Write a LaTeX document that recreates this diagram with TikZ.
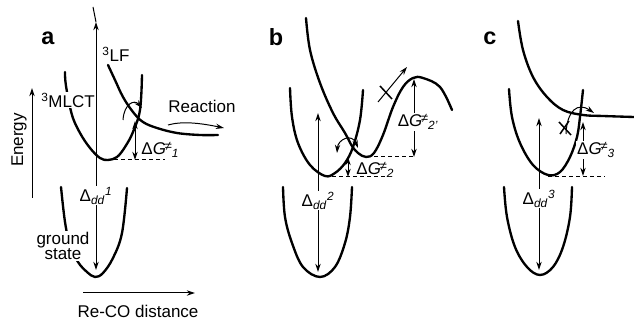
\documentclass[tikz,border=0pt]{standalone}
\usepackage{fontspec}
\setmainfont{Liberation Sans}
\usetikzlibrary{arrows.meta}

\newcommand{\dGlab}[1]{Δ\textit{G}\kern-1pt\raisebox{0.45ex}{\fontsize{11}{11}\selectfont≠}\textsubscript{\textit{#1}}}
\newcommand{\ddlab}[1]{Δ\textsubscript{\textit{dd}}\textsuperscript{\textit{#1}}}

\begin{document}
\begin{tikzpicture}[x=0.03cm, y=-0.03cm,
    pes/.style={line width=2pt, line cap=round},
    thin line/.style={line width=0.85pt},
    gap/.style={thin line, -{Stealth[length=7pt,width=4.5pt]}},
    dgap/.style={thin line, {Stealth[length=7pt,width=4.5pt]}-{Stealth[length=7pt,width=4.5pt]}},
    lvl/.style={thin line, dash pattern=on 3.5pt off 2.5pt},
    lbl/.style={font=\fontsize{14.5}{16}\selectfont, inner sep=1pt},
    wlbl/.style={lbl, fill=white},
    panel/.style={font=\fontsize{20}{21}\selectfont\bfseries, inner sep=0pt}]
    \useasboundingbox (0,0) rectangle (634,320);

    % Axes
    \coordinate (eLow) at (32,198);
    \coordinate (eHigh) at (32,88);
    \coordinate (xLeft) at (83,293);
    \coordinate (xRight) at (195,293);
    \draw[gap] (eLow) -- (eHigh);
    \draw[gap] (xLeft) -- (xRight);
    \node[lbl, rotate=90] (energy) at (19,140) {Energy};
    \node[lbl, anchor=base] (reco) at (138,318) {Re-CO distance};

    % Panel a: the curves
    \draw[pes] plot[smooth, tension=0.6] coordinates {(65,72) (66,86) (72,115) (80,133) (90,148) (100,158) (108,160) (117,157) (125,147) (133,132) (140,110) (142,75)};
    \draw[pes] plot[smooth, tension=0.6] coordinates {(61,187) (65,222) (70,245) (78,262) (87,272) (95,277) (103,273) (113,258) (122,233) (127,188)};
    \draw[pes] plot[smooth, tension=0.6] coordinates {(108,65) (115,80) (123,97) (133,112) (143,122) (157,128) (177,133) (200,135) (218,135)};

    % Panel a: the gaps
    \coordinate (aTop) at (93,7);
    \coordinate (aUp) at (96,22);
    \coordinate (aDown) at (96,270);
    \draw[thin line] (aTop) -- (aUp);
    \draw[dgap] (aUp) -- (aDown) node[pos=0.70, wlbl] (ddA) {\ddlab{1}};
    \coordinate (aX) at (135,121);
    \coordinate (aMin) at (135,160);
    \draw[dgap] (aX) -- (aMin);
    \draw[lvl] (107,160) -- (165,160);
    \node[lbl, anchor=west] (dGA) at (140,150) {\dGlab{1}};
    \coordinate (aCurlS) at (123,120);
    \coordinate (aCurlE) at (142,108);
    \draw[gap] (aCurlS) .. controls (124,104) and (134,99) .. (aCurlE);
    \coordinate (rS) at (168,125);
    \coordinate (rE) at (224,128);
    \draw[gap] (rS) .. controls (182,121) and (200,123) .. (rE);

    % Panel a: the labels
    \node[panel] (pa) at (48,38) {a};
    \node[lbl] (lfA) at (116,54) {\textsuperscript{3}LF};
    \node[wlbl] (mlctA) at (68,100) {\textsuperscript{3}MLCT};
    \node[wlbl, align=center] (gsA) at (63,246) {ground\\[-3pt]state};
    \node[lbl] (react) at (202,106) {Reaction};

    % Panel b: the curves
    \draw[pes] plot[smooth, tension=0.6] coordinates {(290,88) (292,117) (298,143) (310,165) (325,176) (335,173) (345,163) (353,147) (360,120) (363,90)};
    \draw[pes] plot[smooth, tension=0.6] coordinates {(283,187) (285,217) (292,243) (303,267) (320,277) (335,267) (345,243) (350,217) (352,187)};
    \draw[pes] plot[smooth, tension=0.6] coordinates {(306,18) (310,50) (320,83) (333,113) (345,133) (352,146) (358,153) (366,157) (374,153) (383,135) (393,107) (403,87) (413,78) (423,78) (440,87) (452,110)};

    % Panel b: the gaps
    \coordinate (bUp) at (318,113);
    \coordinate (bDown) at (318,272);
    \draw[dgap] (bUp) -- (bDown) node[pos=0.55, wlbl] (ddB) {\ddlab{2}};
    \coordinate (bX) at (348,157);
    \coordinate (bMin) at (348,177);
    \draw[dgap] (bX) -- (bMin);
    \draw[lvl] (325,177) -- (388,177);
    \node[lbl, anchor=west] (dGB) at (355,170) {\dGlab{2}};
    \coordinate (bPeak) at (414,79);
    \coordinate (bWell) at (414,157);
    \draw[lvl] (367,157) -- (413,157);
    \draw[dgap] (bPeak) -- (bWell);
    \node[wlbl] (dGBp) at (418,122) {\dGlab{2'}};
    \coordinate (bCurlS) at (337,153);
    \coordinate (bCurlE) at (358,148);
    \draw[dgap] (bCurlS) .. controls (338,139) and (352,133) .. (bCurlE);
    \coordinate (bEsc) at (378,102);
    \coordinate (bOver) at (407,67);
    \draw[gap] (bEsc) -- (bOver);
    \draw[line width=1.3pt] (380,86) -- (392,99);
    \node[panel] (pb) at (276,37) {b};

    % Panel c: the curves
    \draw[pes] plot[smooth, tension=0.6] coordinates {(509,89) (512,117) (520,143) (533,165) (548,175) (560,172) (570,157) (577,137) (580,117) (583,90)};
    \draw[pes] plot[smooth, tension=0.6] coordinates {(504,187) (507,217) (515,247) (527,267) (540,275) (553,267) (563,247) (570,217) (572,187)};
    \draw[pes] plot[smooth, tension=0.6] coordinates {(518,21) (523,50) (533,77) (547,97) (563,110) (583,115) (603,116) (634,117)};

    % Panel c: the gaps
    \coordinate (cUp) at (539,118);
    \coordinate (cDown) at (539,270);
    \draw[dgap] (cUp) -- (cDown) node[pos=0.53, wlbl] (ddC) {\ddlab{3}};
    \coordinate (cX) at (583,122);
    \coordinate (cMin) at (583,176);
    \draw[dgap] (cX) -- (cMin);
    \draw[lvl] (548,177) -- (605,177);
    \node[wlbl] (dGC) at (596,150) {\dGlab{3}};
    \coordinate (cCurlS) at (566,134);
    \coordinate (cCurlE) at (594,113);
    \draw[gap] (cCurlS) .. controls (567,110) and (578,102) .. (cCurlE);
    \draw[line width=1.3pt] (559,122) -- (571,135);
    \draw[line width=1.3pt] (560,134) -- (569,121);
    \node[panel] (pc) at (490,38) {c};
\end{tikzpicture}
\end{document}
